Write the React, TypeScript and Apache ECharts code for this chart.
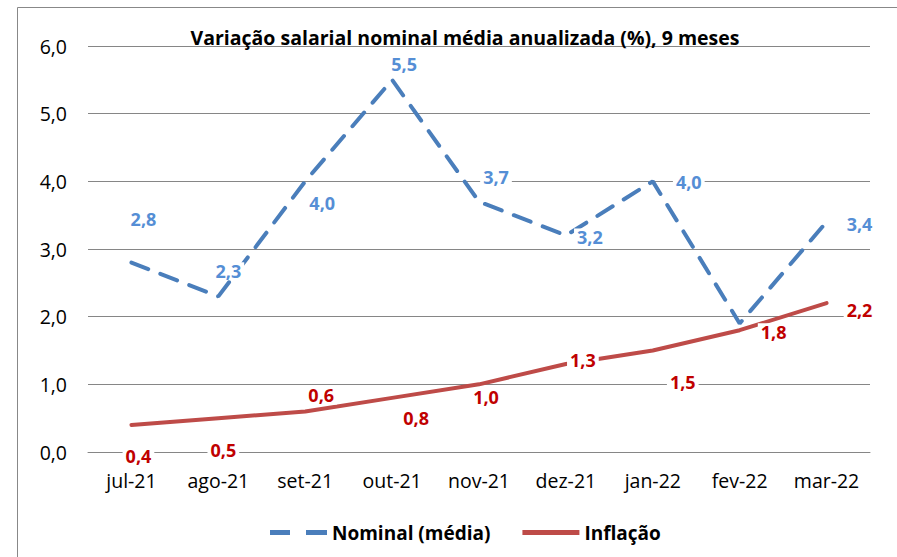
import React, { useEffect, useRef } from "react";
import * as echarts from "echarts";

const categories = ["jul-21", "ago-21", "set-21", "out-21", "nov-21", "dez-21", "jan-22", "fev-22", "mar-22"];
const nominal = [2.8, 2.3, 4.0, 5.5, 3.7, 3.2, 4.0, 1.9, 3.4];
const inflacao = [0.4, 0.5, 0.6, 0.8, 1.0, 1.3, 1.5, 1.8, 2.2];
const yTicks = [0, 1, 2, 3, 4, 5, 6];

// label offsets (dx, dy) from each point
const nominalLabelOffsets = [[12, -44], [10, -25], [17, 22], [12, -16], [17, -25], [24, 2], [36, 1], null, [33, 2]];
const inflLabelOffsets = [[7, 31], [5, 32], [16, -16], [24, 20], [7, 13], [17, -4], [30, 31], [34, 2], [33, 7]];

const fmt = (v: number) => v.toFixed(1).replace(".", ",");
const FONT = "'Open Sans', 'Noto Sans', sans-serif";

export default function App() {
  const ref = useRef<HTMLDivElement>(null);
  useEffect(() => {
    if (!ref.current) return;
    const chart = echarts.init(ref.current, null, { renderer: "svg" });
    const mkData = (vals: number[], offs: (number[] | null)[], color: string) =>
      vals.map((v, i) => ({
        value: v,
        label: offs[i]
          ? {
              show: true,
              position: "inside",
              offset: offs[i] as number[],
              formatter: fmt(v),
              color,
              fontWeight: "bold",
              fontSize: 18,
              lineHeight: 18,
              fontFamily: FONT,
              backgroundColor: "#ffffff",
              padding: [0, 3],
            }
          : { show: false },
      }));
    chart.setOption({
      animation: false,
      backgroundColor: "#ffffff",
      title: {
        text: "Variação salarial nominal média anualizada (%), 9 meses",
        left: 460,
        textAlign: "center",
        top: 22,
        textStyle: { fontFamily: FONT, fontSize: 19.5, fontWeight: "bold", color: "#000" },
      },
      graphic: [
        {
          type: "rect",
          shape: { x: 17.5, y: 7.5, width: 1000, height: 1000 },
          style: { fill: "none", stroke: "#888888", lineWidth: 1 },
          silent: true,
          z: -1,
        },
      ],
      legend: {
        left: 265,
        top: 518,
        itemWidth: 57,
        itemHeight: 5,
        itemGap: 32,
        textStyle: { fontFamily: FONT, fontSize: 19, fontWeight: "bold", color: "#000" },
        data: [
          { name: "Nominal (média)", icon: "path://M0,0h20v5h-20z M36,0h21v5h-21z" },
          { name: "Inflação", icon: "path://M0,0h57v5h-57z" },
        ],
      },
      grid: { left: 88, right: 27, top: 46, bottom: 105, containLabel: false },
      xAxis: {
        type: "category",
        data: categories,
        boundaryGap: true,
        axisLine: { show: true, lineStyle: { color: "#868686" } },
        axisTick: { show: false },
        axisLabel: { fontFamily: FONT, fontSize: 19.5, lineHeight: 20, color: "#000", margin: 18 },
      },
      yAxis: {
        type: "value",
        min: yTicks[0],
        max: yTicks[yTicks.length - 1],
        interval: 1,
        axisLine: { show: false },
        axisTick: { show: false },
        axisLabel: { fontFamily: FONT, fontSize: 19.5, color: "#000", margin: 21, formatter: (v: number) => fmt(v) },
        splitLine: { lineStyle: { color: "#868686", width: 1 } },
      },
      series: [
        {
          name: "Nominal (média)",
          type: "line",
          data: mkData(nominal, nominalLabelOffsets, "#558ED5"),
          symbol: "circle",
          symbolSize: 0,
          showSymbol: true,
          color: "#4A7EBB",
          lineStyle: { color: "#4A7EBB", width: 4, type: [18, 13], cap: "round" },
          z: 3,
        },
        {
          name: "Inflação",
          type: "line",
          data: mkData(inflacao, inflLabelOffsets, "#C00000"),
          symbol: "circle",
          symbolSize: 0,
          showSymbol: true,
          color: "#BE4B48",
          lineStyle: { color: "#BE4B48", width: 4, cap: "round" },
          z: 2,
        },
      ],
    });
    return () => chart.dispose();
  }, []);
  return (
    <div
      ref={ref}
      style={{ position: "fixed", left: 0, top: 0, width: 897, height: 557 }}
    />
  );
}
